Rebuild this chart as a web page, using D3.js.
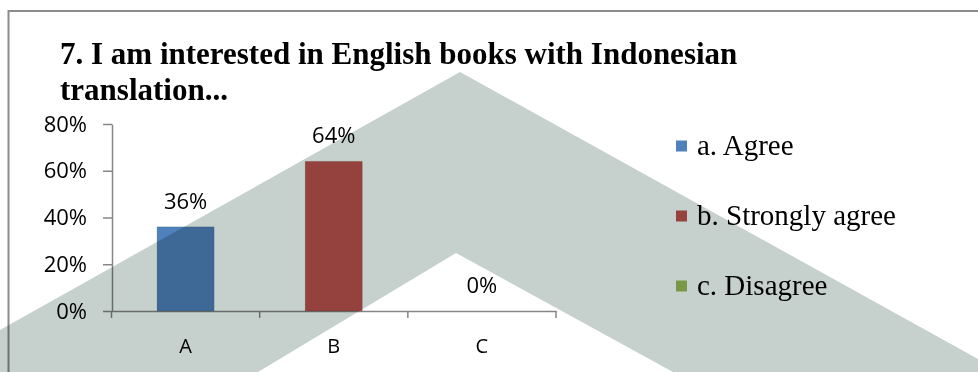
<!DOCTYPE html>
<html>
<head>
<meta charset="utf-8">
<script src="https://cdn.jsdelivr.net/npm/d3@7"></script>
<style>
  body { margin: 0; background: #fff; overflow: hidden; }
  .sans { font-family: "Open Sans", "Liberation Sans", sans-serif; }
  .serif { font-family: "Liberation Serif", "Times New Roman", serif; }
</style>
</head>
<body>
<div id="chart"></div>
<script>
// Chart data
const categories = ["A", "B", "C"];
const values = [0.36, 0.64, 0];
const legendLabels = ["a. Agree", "b. Strongly agree", "c. Disagree"];
const colors = ["#4F81BD", "#C0504D", "#9BBB59"];
const yTicks = [0, 0.2, 0.4, 0.6, 0.8];
const titleLines = ["7. I am interested in English books with Indonesian", "translation..."];

const W = 978, H = 372;

const svg = d3.select("#chart")
    .append("svg")
    .attr("width", W)
    .attr("height", H);

svg.append("rect").attr("width", W).attr("height", H).attr("fill", "#fff");

// outer chart frame (runs off the right and bottom)
svg.append("rect")
    .attr("x", 8.5).attr("y", 11)
    .attr("width", 1100).attr("height", 500)
    .attr("fill", "none")
    .attr("stroke", "#8c8c8c")
    .attr("stroke-width", 2);

// Title
svg.append("g").selectAll("text")
    .data(titleLines)
    .join("text")
    .attr("class", "serif")
    .attr("x", 60)
    .attr("y", (d, i) => 64 + i * 36)
    .style("font-size", "31px")
    .style("font-weight", "bold")
    .text(d => d);

// Scales
const x = d3.scaleBand()
    .domain(categories)
    .range([111.5, 556])
    .padding(0);

const y = d3.scaleLinear()
    .domain([0, 0.8])
    .range([311, 124]);

const axisColor = "#868686";

// Y axis
const yAxis = svg.append("g")
    .attr("class", "sans")
    .attr("transform", "translate(112,0)")
    .call(d3.axisLeft(y)
        .tickValues(yTicks)
        .tickFormat(d3.format(".0%"))
        .tickSize(9)
        .tickSizeOuter(0)
        .tickPadding(16));
yAxis.select(".domain").attr("stroke", axisColor).attr("stroke-width", 1.5);
yAxis.selectAll(".tick line").attr("stroke", axisColor).attr("stroke-width", 1.5);
yAxis.selectAll(".tick text")
    .attr("fill", "#000")
    .style("font-size", "22px")
    .style("font-family", "'Open Sans', 'Liberation Sans', sans-serif");

// X axis
const xAxis = svg.append("g")
    .attr("transform", `translate(0,${y(0)})`)
    .call(d3.axisBottom(x).tickSize(0).tickSizeOuter(0));
xAxis.select(".domain").attr("stroke", axisColor).attr("stroke-width", 1.5);
xAxis.selectAll(".tick text")
    .attr("y", 42)
    .attr("dy", null)
    .attr("fill", "#000")
    .style("font-size", "20px")
    .style("font-family", "'Open Sans', 'Liberation Sans', sans-serif");

// category boundary ticks
const boundaries = categories.map(c => x(c)).concat([x.range()[1]]);
xAxis.selectAll(".bound")
    .data(boundaries)
    .join("line")
    .attr("class", "bound")
    .attr("x1", d => d).attr("x2", d => d)
    .attr("y1", 0).attr("y2", 7)
    .attr("stroke", axisColor)
    .attr("stroke-width", 1.5);

// Bars
const barW = x.bandwidth() * 0.385;
svg.append("g").selectAll("rect")
    .data(values)
    .join("rect")
    .attr("x", (d, i) => x(categories[i]) + (x.bandwidth() - barW) / 2)
    .attr("y", d => y(d))
    .attr("width", barW)
    .attr("height", d => y(0) - y(d))
    .attr("fill", (d, i) => colors[i])
    .attr("stroke", "rgba(0,0,0,0.12)")
    .attr("stroke-width", 1);

// Data labels
svg.append("g").selectAll("text")
    .data(values)
    .join("text")
    .attr("class", "sans")
    .attr("x", (d, i) => x(categories[i]) + x.bandwidth() / 2)
    .attr("y", d => y(d) - 18)
    .attr("text-anchor", "middle")
    .style("font-size", "22px")
    .text(d => d3.format(".0%")(d));

// Legend
const legend = svg.append("g").selectAll("g")
    .data(legendLabels)
    .join("g")
    .attr("transform", (d, i) => `translate(676,${146 + i * 70})`);
legend.append("rect")
    .attr("x", 0).attr("y", -5.5)
    .attr("width", 11).attr("height", 11)
    .attr("fill", (d, i) => colors[i]);
legend.append("text")
    .attr("class", "serif")
    .attr("x", 21)
    .attr("y", 9)
    .style("font-size", "29px")
    .text(d => d);

// Grey watermark chevron laid over the page
svg.append("polygon")
    .attr("points", "0,330 460,72 978,359 978,372 673,372 456,253 258,372 0,372")
    .attr("fill", "#C6D0CC")
    .style("mix-blend-mode", "multiply");
</script>
</body>
</html>
